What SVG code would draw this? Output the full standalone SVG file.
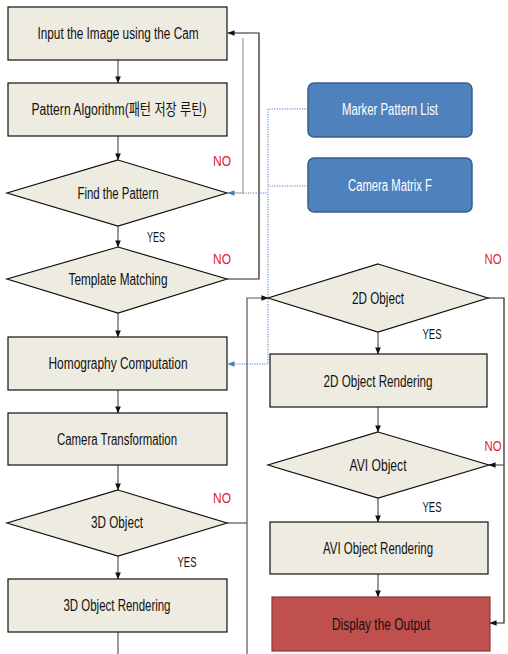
<svg xmlns="http://www.w3.org/2000/svg" width="508" height="654" viewBox="0 0 508 654">
<defs>
<marker id="ah" viewBox="0 0 8 8" refX="7.5" refY="4" markerWidth="7" markerHeight="7" markerUnits="userSpaceOnUse" orient="auto"><path d="M0,0.8 L8,4 L0,7.2 Z" fill="#111"/></marker>
<marker id="ahb" viewBox="0 0 8 8" refX="7.5" refY="4" markerWidth="7" markerHeight="7" markerUnits="userSpaceOnUse" orient="auto"><path d="M0,0.8 L8,4 L0,7.2 Z" fill="#4a7ebb"/></marker>
<style>
.box{fill:#eeece1;stroke:#111;stroke-width:1.2}
.blue{fill:#4f81bd;stroke:#385d8a;stroke-width:1.5}
.red{fill:#c0504d;stroke:#8c3836;stroke-width:1.2}
.t{font-family:"Liberation Sans","Noto Sans CJK KR",sans-serif;font-size:16px;fill:#111;text-anchor:middle}
.tw{font-family:"Liberation Sans","Noto Sans CJK KR",sans-serif;font-size:16px;fill:#fff;text-anchor:middle}
.no{font-family:"Liberation Sans",sans-serif;font-size:15px;fill:#e0262b;text-anchor:middle}
.yes{font-family:"Liberation Sans",sans-serif;font-size:15px;fill:#111;text-anchor:middle}
.c{fill:none;stroke:#555;stroke-width:1.2}
.cb{fill:none;stroke:#4a7ebb;stroke-width:1;stroke-dasharray:1.2 1.3}
</style>
</defs>
<rect width="508" height="654" fill="#fff"/>
<g id="connectors">
<path class="c" d="M118,60 V83" marker-end="url(#ah)"/>
<path class="c" d="M118,136 V160" marker-end="url(#ah)"/>
<path class="c" d="M118,226 V247" marker-end="url(#ah)"/>
<path class="c" d="M118,313 V337" marker-end="url(#ah)"/>
<path class="c" d="M118,390 V413" marker-end="url(#ah)"/>
<path class="c" d="M118,465 V490" marker-end="url(#ah)"/>
<path class="c" d="M118,556 V579" marker-end="url(#ah)"/>
<path class="c" d="M118,632 V654"/>
<path class="c" style="stroke:#222" d="M227,279 H259 V33 H228" marker-end="url(#ah)"/>
<path class="c" style="stroke:#999" d="M243,38 V193 H228" marker-end="url(#ahb)"/>
<path class="c" d="M227,523 H247"/>
<path class="c" d="M247,654 V298 H268" marker-end="url(#ah)"/>
<path class="c" style="stroke:#222" d="M488,298 H504 V623 H490" marker-end="url(#ah)"/>
<path class="c" d="M504,465 H489" marker-end="url(#ah)"/>
<path class="c" d="M378,332 V354" marker-end="url(#ah)"/>
<path class="c" d="M378,407 V432" marker-end="url(#ah)"/>
<path class="c" d="M378,498 V522" marker-end="url(#ah)"/>
<path class="c" d="M378,574 V597" marker-end="url(#ah)"/>
<path class="cb" d="M308,109 H268"/>
<path class="cb" d="M308,186 H268"/>
<path class="cb" d="M243,193 H268"/>
<path class="cb" d="M268,109 V364 H228" marker-end="url(#ahb)"/>
</g>
<g id="input"><rect class="box" x="8" y="7" width="219" height="53"/><text class="t" x="118" y="39" textLength="161" lengthAdjust="spacingAndGlyphs">Input the Image using the Cam</text></g>
<g id="pattern"><rect class="box" x="8" y="83" width="219" height="53"/><text class="t" x="119" y="115" textLength="175" lengthAdjust="spacingAndGlyphs">Pattern Algorithm(패턴 저장 루틴)</text></g>
<g id="find"><polygon class="box" points="118,160 227,193 118,226 7,193"/><text class="t" x="118" y="199" textLength="81" lengthAdjust="spacingAndGlyphs">Find the Pattern</text></g>
<g id="template"><polygon class="box" points="118,247 227,279 118,313 7,279"/><text class="t" x="118" y="285" textLength="99" lengthAdjust="spacingAndGlyphs">Template Matching</text></g>
<g id="homography"><rect class="box" x="8" y="337" width="219" height="53"/><text class="t" x="118" y="369" textLength="139" lengthAdjust="spacingAndGlyphs">Homography Computation</text></g>
<g id="camtrans"><rect class="box" x="8" y="413" width="219" height="52"/><text class="t" x="117" y="445" textLength="120" lengthAdjust="spacingAndGlyphs">Camera Transformation</text></g>
<g id="obj3d"><polygon class="box" points="118,490 227,523 118,556 7,523"/><text class="t" x="117" y="528" textLength="52" lengthAdjust="spacingAndGlyphs">3D Object</text></g>
<g id="render3d"><rect class="box" x="8" y="579" width="219" height="53"/><text class="t" x="117" y="611" textLength="107" lengthAdjust="spacingAndGlyphs">3D Object Rendering</text></g>
<g id="marker"><rect class="blue" x="308" y="83" width="164" height="54" rx="6"/><text class="tw" x="390" y="115" textLength="96" lengthAdjust="spacingAndGlyphs">Marker Pattern List</text></g>
<g id="cammatrix"><rect class="blue" x="308" y="158" width="164" height="54" rx="6"/><text class="tw" x="390" y="191" textLength="84" lengthAdjust="spacingAndGlyphs">Camera Matrix F</text></g>
<g id="obj2d"><polygon class="box" points="378,264 488,298 378,332 268,298"/><text class="t" x="378" y="304" textLength="52" lengthAdjust="spacingAndGlyphs">2D Object</text></g>
<g id="render2d"><rect class="box" x="270" y="354" width="217" height="53"/><text class="t" x="378" y="387" textLength="109" lengthAdjust="spacingAndGlyphs">2D Object Rendering</text></g>
<g id="avi"><polygon class="box" points="378,432 489,465 378,498 268,465"/><text class="t" x="378" y="471" textLength="57" lengthAdjust="spacingAndGlyphs">AVI Object</text></g>
<g id="renderavi"><rect class="box" x="270" y="522" width="218" height="52"/><text class="t" x="378" y="554" textLength="110" lengthAdjust="spacingAndGlyphs">AVI Object Rendering</text></g>
<g id="display"><rect class="red" x="272" y="597" width="218" height="54"/><text class="t" x="381" y="630" textLength="98" lengthAdjust="spacingAndGlyphs">Display the Output</text></g>
<g id="labels">
<text class="no" x="222" y="166" textLength="18" lengthAdjust="spacingAndGlyphs">NO</text>
<text class="no" x="222" y="264" textLength="18" lengthAdjust="spacingAndGlyphs">NO</text>
<text class="no" x="222" y="503" textLength="18" lengthAdjust="spacingAndGlyphs">NO</text>
<text class="no" x="493" y="264" textLength="17" lengthAdjust="spacingAndGlyphs">NO</text>
<text class="no" x="493" y="451" textLength="17" lengthAdjust="spacingAndGlyphs">NO</text>
<text class="yes" x="156" y="242" textLength="18" lengthAdjust="spacingAndGlyphs">YES</text>
<text class="yes" x="187" y="567" textLength="19" lengthAdjust="spacingAndGlyphs">YES</text>
<text class="yes" x="432" y="339" textLength="19" lengthAdjust="spacingAndGlyphs">YES</text>
<text class="yes" x="432" y="512" textLength="19" lengthAdjust="spacingAndGlyphs">YES</text>
</g>
</svg>
